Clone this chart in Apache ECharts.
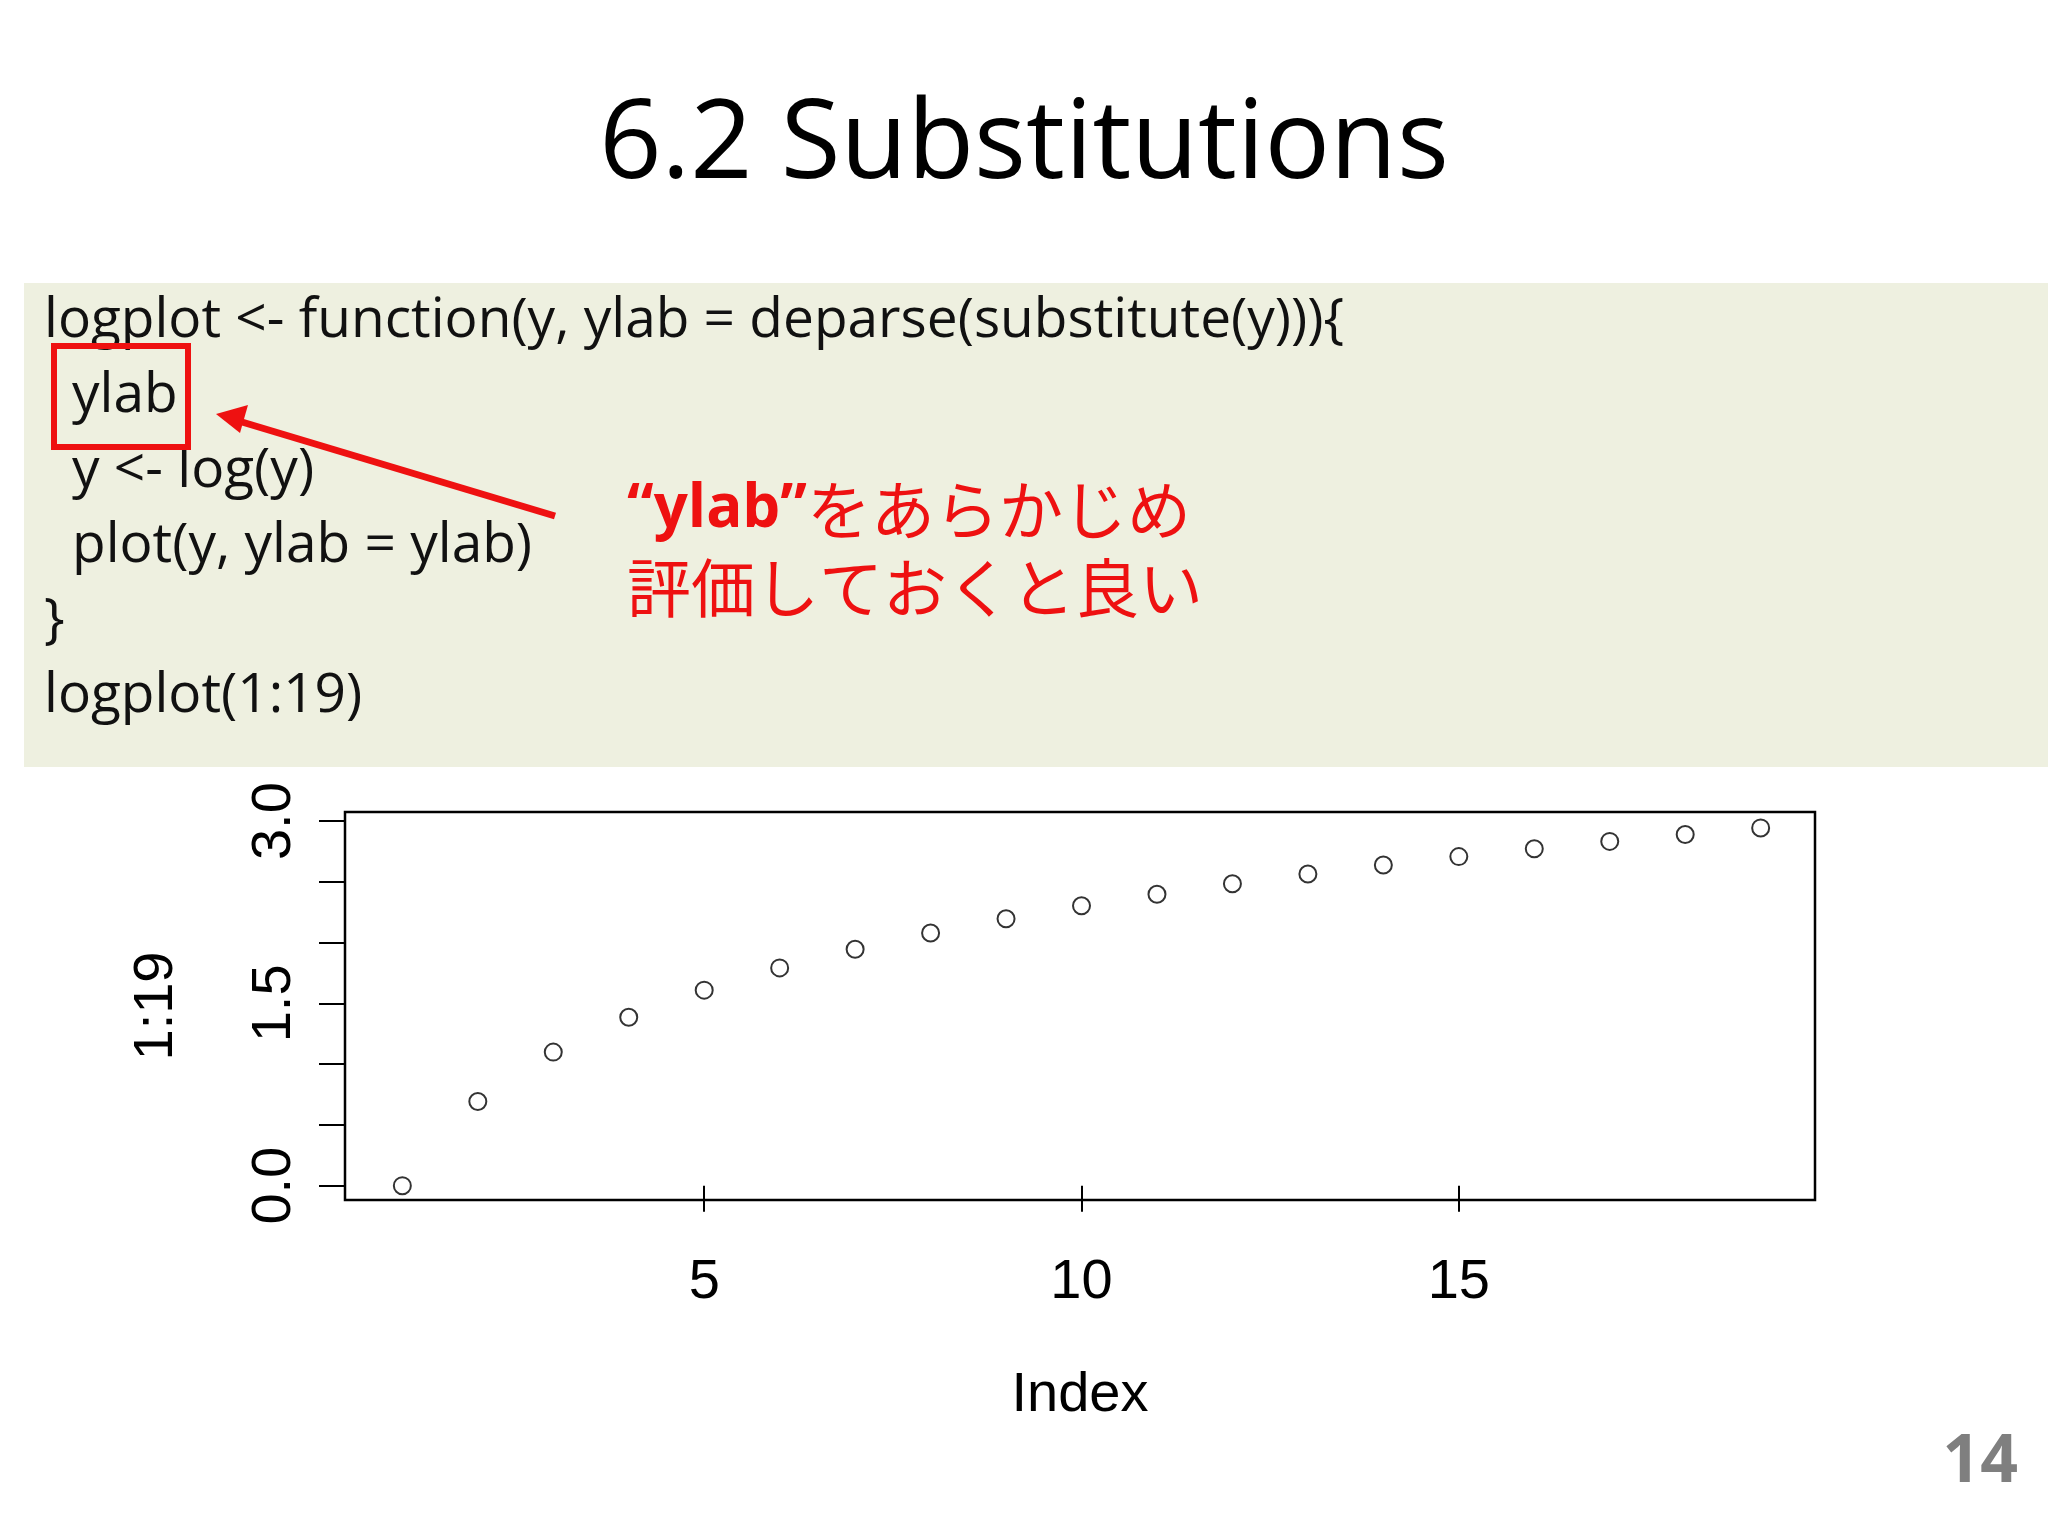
<!doctype html>
<html>
<head>
<meta charset="utf-8">
<title>6.2 Substitutions</title>
<style>
  html, body { margin: 0; padding: 0; background: #fff; }
  #main { width: 2048px; height: 1536px; }
</style>
</head>
<body>
<div id="main"></div>
<script src="https://cdn.jsdelivr.net/npm/echarts@6/dist/echarts.min.js"></script>
<script>
var index = [1, 2, 3, 4, 5, 6, 7, 8, 9, 10, 11, 12, 13, 14, 15, 16, 17, 18, 19];
var logValues = [0.000, 0.693, 1.099, 1.386, 1.609, 1.792, 1.946, 2.079, 2.197, 2.303,
                 2.398, 2.485, 2.565, 2.639, 2.708, 2.773, 2.833, 2.890, 2.944];
var yLabelsShown = ['0.0', '1.5', '3.0'];
var codeLines = [
  'logplot <- function(y, ylab = deparse(substitute(y))){',
  '  ylab',
  '  y <- log(y)',
  '  plot(y, ylab = ylab)',
  '}',
  'logplot(1:19)'
];

var font = '"Open Sans", "Liberation Sans", sans-serif';
var codeText = codeLines.map(function (line, i) {
  var indented = /^  /.test(line);
  return {
    type: 'text', left: indented ? 72 : 44, top: 294 + i * 75, z: 10,
    style: { text: line.replace(/^  /, ''), font: '55px ' + font, fill: '#111' }
  };
});

var chart = echarts.init(document.getElementById('main'));
chart.setOption({
  backgroundColor: '#fff',
  animation: false,
  grid: { left: 345, right: 233, top: 812, bottom: 336, show: true,
          borderColor: '#000', borderWidth: 2.5, backgroundColor: 'transparent' },
  xAxis: {
    type: 'value', min: 0.24, max: 19.72, interval: 5,
    name: 'Index', nameLocation: 'middle', nameGap: 168,
    nameTextStyle: { fontSize: 56, color: '#000', fontFamily: 'Liberation Sans' },
    axisLine: { show: false },
    axisTick: { show: true, length: 26, lineStyle: { color: '#000', width: 2 },
                customValues: [5, 10, 15] },
    axisLabel: { fontSize: 56, color: '#000', margin: 55, fontFamily: 'Liberation Sans',
                 customValues: [5, 10, 15] },
    splitLine: { show: false }
  },
  yAxis: {
    type: 'value', min: -0.118, max: 3.075,
    name: '1:19', nameLocation: 'middle', nameGap: 160, nameRotate: 90,
    nameTextStyle: { fontSize: 56, color: '#000', fontFamily: 'Liberation Sans' },
    axisLine: { show: false },
    axisTick: { show: true, length: 26, lineStyle: { color: '#000', width: 2 },
                customValues: [0, 0.5, 1, 1.5, 2, 2.5, 3] },
    axisLabel: { fontSize: 56, color: '#000', margin: 42, rotate: 90, fontFamily: 'Liberation Sans',
                 customValues: [0, 1.5, 3],
                 formatter: function (v) { return yLabelsShown[Math.round(v / 1.5)]; } },
    splitLine: { show: false }
  },
  series: [{
    type: 'scatter',
    data: index.map(function (x, i) { return [x, logValues[i]]; }),
    symbol: 'circle', symbolSize: 17,
    itemStyle: { color: '#fff', borderColor: '#000', borderWidth: 2 }
  }],
  graphic: [
    { type: 'text', left: 'center', top: 92,
      style: { text: '6.2 Substitutions', font: '109px ' + font, fill: '#000' } },
    { type: 'rect', shape: { x: 24, y: 283, width: 2024, height: 484 }, z: 1,
      style: { fill: '#eef0e0' } },
    { type: 'rect', shape: { x: 54, y: 346, width: 134, height: 101 }, z: 11,
      style: { fill: 'none', stroke: '#ee1111', lineWidth: 6 } },
    { type: 'line', shape: { x1: 555, y1: 516, x2: 232, y2: 419 }, z: 11,
      style: { stroke: '#ee1111', lineWidth: 7 } },
    { type: 'polygon', shape: { points: [[216, 414], [248, 405], [240, 433]] }, z: 11,
      style: { fill: '#ee1111' } },
    { type: 'text', left: 627, top: 478, z: 11,
      style: { rich: {
        a: { font: 'bold 60px ' + font, fill: '#ee1111' },
        b: { font: '64px "Noto Sans CJK JP"', fill: '#ee1111' }
      }, text: '{a|“ylab”}{b|をあらかじめ}' } },
    { type: 'text', left: 627, top: 556, z: 11,
      style: { text: '評価しておくと良い', font: '64px "Noto Sans CJK JP"', fill: '#ee1111' } },
    { type: 'text', right: 30, top: 1430,
      style: { text: '14', font: 'bold 66px ' + font, fill: '#7f7f7f' } }
  ].concat(codeText)
});
</script>
</body>
</html>
